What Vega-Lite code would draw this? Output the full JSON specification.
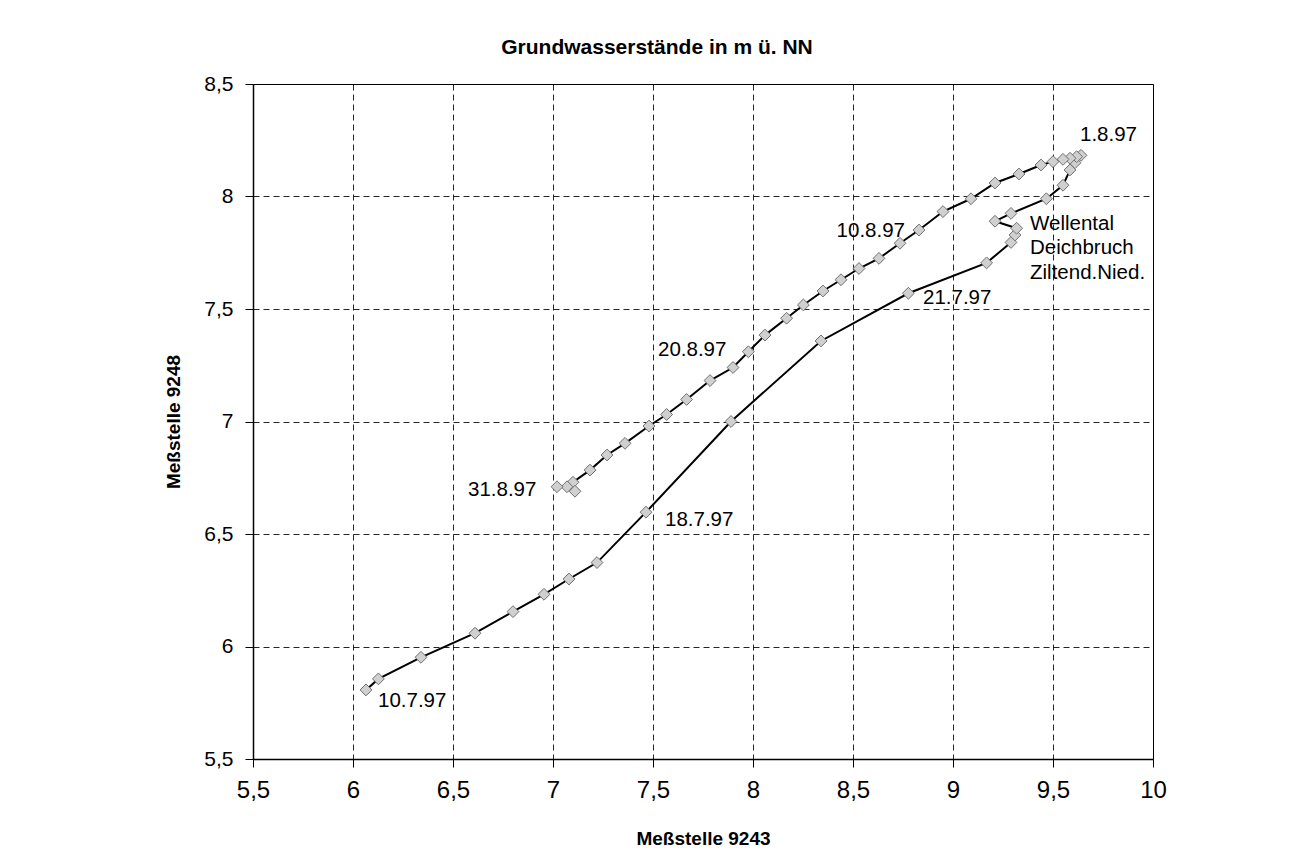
{
  "$schema": "https://vega.github.io/schema/vega-lite/v6.json",
  "autosize": {"type": "none"},
  "padding": {"left": 253, "top": 84, "right": 161, "bottom": 108},
  "width": 900,
  "height": 675,
  "background": "white",
  "title": {"text": "Grundwasserstände in m ü. NN", "font": "Liberation Sans", "fontSize": 21, "fontWeight": "bold", "color": "black", "offset": 15, "anchor": "middle", "dx": -46},
  "config": {
    "view": {"stroke": "black", "strokeWidth": 1},
    "axis": {
      "domainColor": "black", "domainWidth": 1.5, "tickColor": "black", "tickSize": 8, "tickWidth": 1,
      "gridColor": "black", "gridDash": [6, 4], "gridWidth": 1, "gridOpacity": 0.85,
      "labelFont": "Liberation Sans", "labelColor": "black", "labelFlush": false, "labelOverlap": false,
      "titleFont": "Liberation Sans", "titleFontSize": 19, "titleFontWeight": "bold", "titleColor": "black"
    }
  },
  "datasets": {
    "pts": [
      {"i": 1, "x": 6.065, "y": 5.807},
      {"i": 2, "x": 6.127, "y": 5.856},
      {"i": 3, "x": 6.34, "y": 5.952},
      {"i": 4, "x": 6.61, "y": 6.059},
      {"i": 5, "x": 6.80, "y": 6.155},
      {"i": 6, "x": 6.955, "y": 6.232},
      {"i": 7, "x": 7.08, "y": 6.30},
      {"i": 8, "x": 7.22, "y": 6.373},
      {"i": 9, "x": 7.465, "y": 6.597},
      {"i": 10, "x": 7.89, "y": 7.0},
      {"i": 11, "x": 8.34, "y": 7.358},
      {"i": 12, "x": 8.777, "y": 7.57},
      {"i": 13, "x": 9.168, "y": 7.705},
      {"i": 14, "x": 9.29, "y": 7.796},
      {"i": 15, "x": 9.31, "y": 7.829},
      {"i": 16, "x": 9.318, "y": 7.859},
      {"i": 17, "x": 9.21, "y": 7.89},
      {"i": 18, "x": 9.29, "y": 7.925},
      {"i": 19, "x": 9.467, "y": 7.99},
      {"i": 20, "x": 9.55, "y": 8.05},
      {"i": 21, "x": 9.585, "y": 8.118},
      {"i": 22, "x": 9.61, "y": 8.15},
      {"i": 23, "x": 9.64, "y": 8.183},
      {"i": 24, "x": 9.618, "y": 8.177},
      {"i": 25, "x": 9.585, "y": 8.17},
      {"i": 26, "x": 9.55, "y": 8.165},
      {"i": 27, "x": 9.5, "y": 8.155},
      {"i": 28, "x": 9.44, "y": 8.14},
      {"i": 29, "x": 9.33, "y": 8.10},
      {"i": 30, "x": 9.21, "y": 8.06},
      {"i": 31, "x": 9.09, "y": 7.99},
      {"i": 32, "x": 8.95, "y": 7.933},
      {"i": 33, "x": 8.83, "y": 7.851},
      {"i": 34, "x": 8.735, "y": 7.792},
      {"i": 35, "x": 8.63, "y": 7.725},
      {"i": 36, "x": 8.53, "y": 7.68},
      {"i": 37, "x": 8.44, "y": 7.63},
      {"i": 38, "x": 8.35, "y": 7.58},
      {"i": 39, "x": 8.252, "y": 7.518},
      {"i": 40, "x": 8.168, "y": 7.459},
      {"i": 41, "x": 8.06, "y": 7.384},
      {"i": 42, "x": 7.977, "y": 7.31},
      {"i": 43, "x": 7.90, "y": 7.24},
      {"i": 44, "x": 7.785, "y": 7.182},
      {"i": 45, "x": 7.668, "y": 7.098},
      {"i": 46, "x": 7.568, "y": 7.031},
      {"i": 47, "x": 7.48, "y": 6.98},
      {"i": 48, "x": 7.36, "y": 6.903},
      {"i": 49, "x": 7.27, "y": 6.851},
      {"i": 50, "x": 7.185, "y": 6.784},
      {"i": 51, "x": 7.10, "y": 6.73},
      {"i": 52, "x": 7.11, "y": 6.69},
      {"i": 53, "x": 7.07, "y": 6.71},
      {"i": 54, "x": 7.02, "y": 6.71}
    ],
    "labels": [
      {"label": "1.8.97", "x": 9.635, "y": 8.275},
      {"label": "10.8.97", "x": 8.418, "y": 7.848},
      {"label": "Wellental", "x": 9.385, "y": 7.876},
      {"label": "Deichbruch", "x": 9.385, "y": 7.773},
      {"label": "Ziltend.Nied.", "x": 9.385, "y": 7.662},
      {"label": "21.7.97", "x": 8.85, "y": 7.548},
      {"label": "20.8.97", "x": 7.525, "y": 7.318},
      {"label": "31.8.97", "x": 6.575, "y": 6.696},
      {"label": "18.7.97", "x": 7.56, "y": 6.562},
      {"label": "10.7.97", "x": 6.125, "y": 5.757}
    ]
  },
  "encoding": {
    "x": {"field": "x", "type": "quantitative",
      "scale": {"domain": [5.5, 10], "nice": false, "zero": false},
      "axis": {"title": "Meßstelle 9243", "values": [5.5, 6, 6.5, 7, 7.5, 8, 8.5, 9, 9.5, 10], "labelExpr": "replace(toString(datum.value), '.', ',')", "labelFontSize": 24, "labelPadding": 11, "titlePadding": 27}},
    "y": {"field": "y", "type": "quantitative",
      "scale": {"domain": [5.5, 8.5], "nice": false, "zero": false},
      "axis": {"title": "Meßstelle 9248", "values": [5.5, 6, 6.5, 7, 7.5, 8, 8.5], "labelExpr": "replace(toString(datum.value), '.', ',')", "labelFontSize": 21, "labelPadding": 12, "titlePadding": 20}}
  },
  "layer": [
    {
      "data": {"name": "pts"},
      "mark": {"type": "line", "color": "black", "strokeWidth": 2},
      "encoding": {"order": {"field": "i", "type": "quantitative"}}
    },
    {
      "data": {"name": "pts"},
      "mark": {"type": "point", "shape": "diamond", "filled": true, "fill": "#d0d0d0", "stroke": "#707070", "strokeWidth": 1, "size": 140, "opacity": 1}
    },
    {
      "data": {"name": "labels"},
      "mark": {"type": "text", "align": "left", "baseline": "middle", "font": "Liberation Sans", "fontSize": 20.5, "color": "black"},
      "encoding": {"text": {"field": "label", "type": "nominal"}}
    }
  ]
}
